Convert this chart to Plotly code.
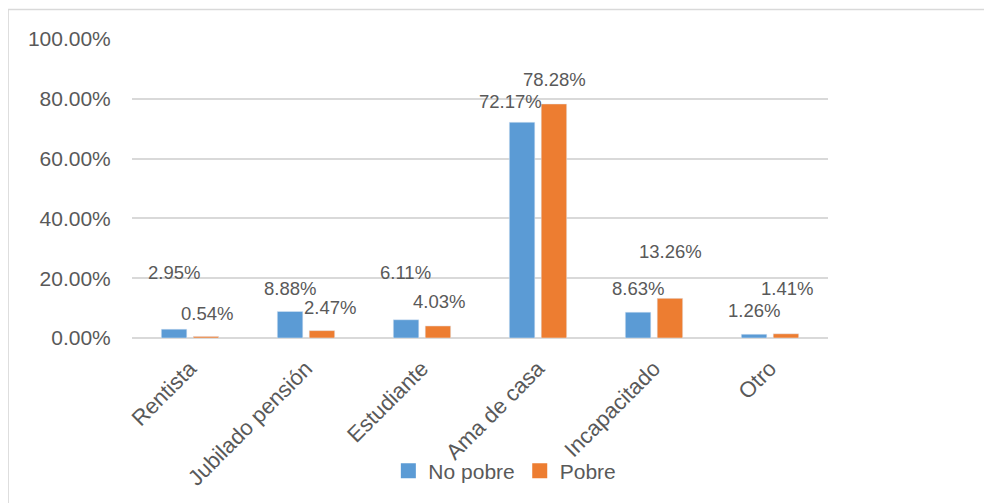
import plotly.graph_objs as go

# datos (porcentajes)
categorias = ["Rentista", "Jubilado pensión", "Estudiante", "Ama de casa", "Incapacitado", "Otro"]
no_pobre = [2.95, 8.88, 6.11, 72.17, 8.63, 1.26]
pobre = [0.54, 2.47, 4.03, 78.28, 13.26, 1.41]

# desplazamiento de las etiquetas (px) como en el original
dy_no_pobre = [57, 23, 47, 21, 24, 24]
dx_no_pobre = [0, 0, 0, -11, 0, 0]
dy_pobre = [23, 23, 24, 24, 47, 45]
dx_pobre = [0, 7, 0, 0, 0, 0]

AZUL = "#5B9BD5"
NARANJA = "#ED7D31"
GRIS = "#595959"
FUENTE = "Liberation Sans"

fig = go.Figure()
fig.add_trace(go.Bar(x=categorias, y=no_pobre, name="No pobre", marker=dict(color=AZUL), showlegend=False))
fig.add_trace(go.Bar(x=categorias, y=pobre, name="Pobre", marker=dict(color=NARANJA), showlegend=False))

# leyenda con cuadrados más grandes
for nombre, color in [("No pobre", AZUL), ("Pobre", NARANJA)]:
    fig.add_trace(go.Scatter(
        x=[None], y=[None], mode="markers", name=nombre,
        marker=dict(symbol="square", size=15, color=color)
    ))

# etiquetas de datos
anots = []
for serie, dys, dxs, lado in [(no_pobre, dy_no_pobre, dx_no_pobre, -1), (pobre, dy_pobre, dx_pobre, 1)]:
    for cat, v, dy, dx in zip(categorias, serie, dys, dxs):
        anots.append(dict(
            x=cat, y=v, text=f"{v:.2f}%", showarrow=False,
            xshift=lado * 16.5 + dx, yshift=dy, yanchor="middle",
            font=dict(family=FUENTE, size=18.5, color=GRIS)
        ))

# la página tiene un margen de 8 px en el body
fig.update_layout(
    width=992, height=503,
    margin=dict(l=124, r=172, t=31, b=173),
    paper_bgcolor="white", plot_bgcolor="white",
    barmode="group", bargap=0.45, bargroupgap=0.2,
    font=dict(family=FUENTE, size=19, color=GRIS),
    annotations=anots,
    legend=dict(
        orientation="h", x=0.5357, xanchor="center", y=-0.445, yanchor="middle",
        font=dict(family=FUENTE, size=21, color=GRIS), itemwidth=30,
        traceorder="normal", bgcolor="rgba(0,0,0,0)"
    ),
    shapes=[dict(
        type="rect", xref="paper", yref="paper",
        x0=-0.178, x1=1.3, y0=-0.6, y1=1.0987,
        line=dict(color="#d9d9d9", width=1.5), fillcolor="rgba(0,0,0,0)", layer="below"
    )],
)

fig.update_yaxes(
    range=[0, 100], dtick=20, tickformat=".2f", ticksuffix="%",
    showgrid=True, gridcolor="#d9d9d9", gridwidth=1.5,
    zeroline=True, zerolinecolor="#d9d9d9", zerolinewidth=1.5,
    ticks="outside", ticklen=16, tickcolor="rgba(0,0,0,0)",
    tickfont=dict(family=FUENTE, size=21, color=GRIS), showline=False,
    automargin=False
)
fig.update_xaxes(
    tickangle=-45, ticks="outside", ticklen=8, tickcolor="rgba(0,0,0,0)",
    tickfont=dict(family=FUENTE, size=22, color=GRIS), showline=False,
    automargin=False
)

fig.write_html("out.html")
